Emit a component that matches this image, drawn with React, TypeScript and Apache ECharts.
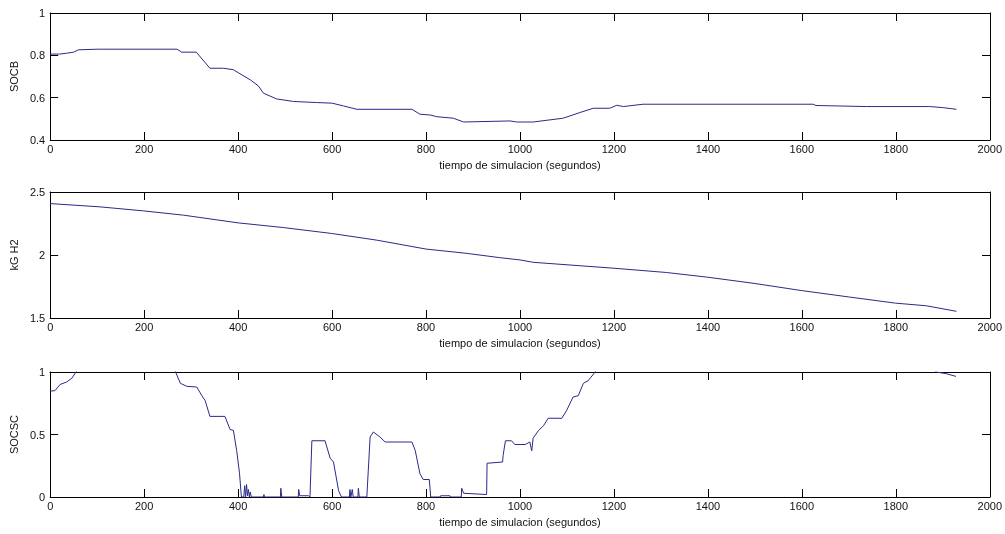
import React, { useEffect, useRef } from "react";
import * as echarts from "echarts";

// SOCB (battery state of charge)
const socbTime = [0, 20, 35, 50, 60, 100, 270, 280, 311, 340, 369, 390, 404, 426, 443, 454, 482, 518, 567, 600, 624, 653, 770, 787, 809, 823, 858, 880, 979, 993, 1028, 1092, 1128, 1156, 1191, 1206, 1220, 1262, 1624, 1630, 1738, 1872, 1900, 1929];
const socbValue = [0.806, 0.806, 0.81, 0.815, 0.826, 0.829, 0.829, 0.815, 0.815, 0.739, 0.739, 0.732, 0.713, 0.684, 0.656, 0.621, 0.594, 0.582, 0.577, 0.574, 0.561, 0.545, 0.545, 0.522, 0.518, 0.51, 0.503, 0.485, 0.49, 0.485, 0.485, 0.503, 0.53, 0.55, 0.55, 0.564, 0.558, 0.569, 0.569, 0.563, 0.558, 0.558, 0.553, 0.545];

// kG H2
const h2Time = [0, 106, 199, 284, 400, 496, 599, 695, 800, 887, 957, 1000, 1028, 1200, 1312, 1399, 1496, 1599, 1702, 1799, 1865, 1929];
const h2Value = [2.408, 2.382, 2.35, 2.316, 2.255, 2.218, 2.171, 2.118, 2.047, 2.013, 1.979, 1.961, 1.942, 1.895, 1.861, 1.824, 1.776, 1.718, 1.666, 1.618, 1.597, 1.553];

// SOCSC (supercapacitor state of charge); null = off-scale gap
const socscTime = [0, 10, 21, 35, 46, 55, 58, 160, 264, 267, 277, 291, 312, 323, 330, 340, 372, 383, 390, 397, 403, 407, 412, 414, 416, 418, 420, 422, 424, 426, 428, 454, 455, 456, 490, 491, 493, 528, 529, 531, 550, 553, 557, 585, 596, 603, 614, 620, 637, 638, 640, 643, 645, 655, 656, 658, 674, 681, 688, 702, 713, 770, 777, 787, 794, 807, 810, 830, 831, 851, 852, 875, 876, 880, 929, 930, 963, 964, 969, 982, 989, 1011, 1021, 1025, 1028, 1039, 1050, 1060, 1089, 1099, 1113, 1124, 1135, 1145, 1160, 1163, 1500, 1884, 1886, 1907, 1928];
const socscValue = [0.848, 0.85, 0.9, 0.92, 0.95, 1.0, 1.03, null, 1.03, 1.0, 0.91, 0.885, 0.88, 0.81, 0.77, 0.645, 0.645, 0.54, 0.533, 0.37, 0.19, 0, 0, 0.09, 0, 0.1, 0.01, 0.06, 0, 0.04, 0, 0, 0.02, 0, 0, 0.07, 0, 0, 0.06, 0.01, 0.01, 0, 0.45, 0.45, 0.31, 0.28, 0.05, 0, 0, 0.06, 0, 0.06, 0, 0, 0.07, 0, 0, 0.48, 0.52, 0.48, 0.44, 0.44, 0.373, 0.187, 0.14, 0.14, 0, 0, 0.01, 0.01, 0, 0, 0.07, 0.03, 0.02, 0.27, 0.28, 0.33, 0.45, 0.45, 0.42, 0.42, 0.44, 0.37, 0.47, 0.53, 0.57, 0.63, 0.63, 0.69, 0.8, 0.81, 0.91, 0.93, 1.0, 1.03, null, 1.01, 1.0, 0.987, 0.965];

const yNames = ["SOCB", "kG H2", "SOCSC"];
const yRanges = [
  { min: 0.4, max: 1, interval: 0.2 },
  { min: 1.5, max: 2.5, interval: 0.5 },
  { min: 0, max: 1, interval: 0.5 },
];
const xRange = { min: 0, max: 2000, interval: 200 };
const xLabel = "tiempo de simulacion (segundos)";

const FONT = "'Liberation Sans', Arial, sans-serif";
const LINE = "#2a2a8c";

// split a series at its null gaps into separate segments
function segments(t: number[], v: (number | null)[]): number[][][] {
  const out: number[][][] = [];
  let cur: number[][] = [];
  t.forEach((x, k) => {
    const y = v[k];
    if (y === null) {
      if (cur.length) out.push(cur);
      cur = [];
    } else {
      cur.push([x, y]);
    }
  });
  if (cur.length) out.push(cur);
  return out;
}

export default function App() {
  const ref = useRef<HTMLDivElement>(null);
  useEffect(() => {
    if (!ref.current) return;
    const chart = echarts.init(ref.current, undefined, { renderer: "svg" });
    const rects = [
      { left: 50, top: 13, width: 940, height: 127 },
      { left: 50, top: 192, width: 940, height: 126 },
      { left: 50, top: 372, width: 940, height: 125 },
    ];
    const grids: any[] = [];
    rects.forEach((r) => {
      grids.push({ ...r });
      grids.push({ ...r });
    });
    const tick = () => ({ show: true, inside: true, length: 8, lineStyle: { color: "#000", width: 1 } });
    const axisLine = () => ({ show: true, onZero: false, lineStyle: { color: "#000", width: 1 } });
    const xAxis: any[] = [];
    const yAxis: any[] = [];
    rects.forEach((_, i) => {
      const gMain = 2 * i;
      const gBox = 2 * i + 1;
      xAxis.push({
        type: "value", gridIndex: gMain, position: "bottom", ...xRange,
        axisLine: axisLine(), axisTick: tick(), splitLine: { show: false },
        axisLabel: { color: "#111", fontSize: 11, fontFamily: FONT, margin: 3, formatter: (v: number) => String(v) },
        name: xLabel, nameLocation: "middle", nameGap: 19,
        nameTextStyle: { color: "#111", fontSize: 11, fontFamily: FONT },
      });
      xAxis.push({
        type: "value", gridIndex: gBox, position: "top", ...xRange,
        axisLine: axisLine(), axisTick: tick(), splitLine: { show: false }, axisLabel: { show: false },
      });
      yAxis.push({
        type: "value", gridIndex: gMain, position: "left", ...yRanges[i],
        axisLine: axisLine(), axisTick: tick(), splitLine: { show: false },
        axisLabel: { color: "#111", fontSize: 11, fontFamily: FONT, margin: 5, formatter: (v: number) => String(Math.round(v * 10) / 10) },
        name: yNames[i], nameLocation: "middle", nameGap: 25, nameRotate: 90,
        nameTextStyle: { color: "#111", fontSize: 11, fontFamily: FONT },
      });
      yAxis.push({
        type: "value", gridIndex: gBox, position: "right", ...yRanges[i],
        axisLine: axisLine(), axisTick: tick(), splitLine: { show: false }, axisLabel: { show: false },
      });
    });
    const lineSeries = (axis: number, data: number[][]) => ({
      type: "line", xAxisIndex: axis, yAxisIndex: axis, showSymbol: false,
      lineStyle: { color: LINE, width: 1 }, data,
    });
    const series: any[] = [];
    segments(socbTime, socbValue).forEach((d) => series.push(lineSeries(0, d)));
    segments(h2Time, h2Value).forEach((d) => series.push(lineSeries(2, d)));
    segments(socscTime, socscValue).forEach((d) => series.push(lineSeries(4, d)));
    chart.setOption({
      animation: false,
      grid: grids,
      xAxis,
      yAxis,
      series,
    });
    return () => chart.dispose();
  }, []);
  return <div ref={ref} style={{ position: "fixed", left: 0, top: 0, width: 1005, height: 534 }} />;
}
